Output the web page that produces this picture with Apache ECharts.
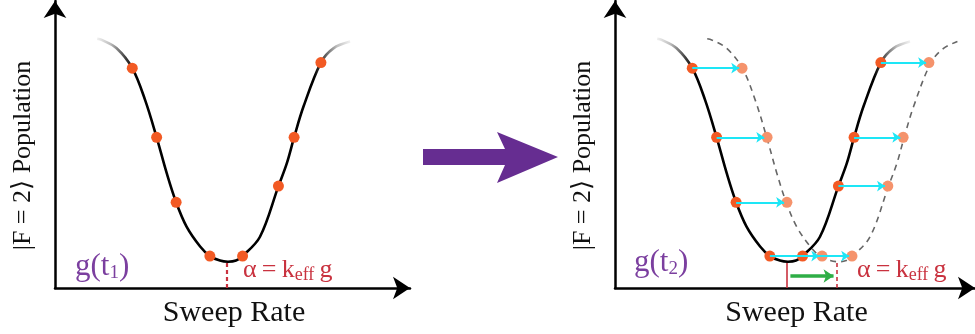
<!DOCTYPE html>
<html>
<head>
<meta charset="utf-8">
<script src="https://cdn.jsdelivr.net/npm/echarts@6/dist/echarts.min.js"></script>
<style>
  html, body { margin: 0; padding: 0; background: #ffffff; }
  #chart { width: 975px; height: 334px; }
</style>
</head>
<body>
<div id="chart"></div>
<script>
// Resonance dip of the |F=2> population versus sweep rate (arbitrary units).
const curveX = [1.21, 1.34, 1.77, 2.22, 2.59, 2.92, 3.21, 3.48, 3.78, 4.17, 4.45, 4.74, 4.97, 5.20, 5.39, 5.89, 6.42, 6.66, 6.87, 7.14, 7.64, 8.00, 8.48];
const curveY = [0.890, 0.886, 0.856, 0.785, 0.671, 0.538, 0.410, 0.306, 0.219, 0.148, 0.114, 0.098, 0.094, 0.098, 0.114, 0.183, 0.364, 0.445, 0.538, 0.648, 0.805, 0.856, 0.880];

// Same dip at the later time g(t2), moved to higher sweep rate.
const shiftedCurveX = [2.65, 2.78, 3.21, 3.66, 4.03, 4.36, 4.65, 4.92, 5.22, 5.61, 5.89, 6.18, 6.41, 6.64, 6.83, 7.33, 7.86, 8.10, 8.31, 8.58, 9.08, 9.44, 9.84];
const shiftedCurveY = [0.890, 0.886, 0.856, 0.785, 0.671, 0.538, 0.410, 0.306, 0.219, 0.148, 0.114, 0.098, 0.094, 0.098, 0.114, 0.183, 0.364, 0.445, 0.538, 0.648, 0.805, 0.856, 0.880];

// Measured points at g(t1) and the same points at g(t2).
const pointX = [2.22, 2.92, 3.48, 4.45, 5.39, 6.42, 6.87, 7.64];
const pointY = [0.785, 0.538, 0.306, 0.114, 0.114, 0.364, 0.538, 0.805];
const shiftedPointX = [3.65, 4.37, 4.94, 5.95, 6.81, 7.84, 8.28, 9.02];
const shiftedPointY = [0.785, 0.538, 0.306, 0.114, 0.114, 0.364, 0.538, 0.805];

// Resonance positions alpha = k_eff g at t1 and t2, and the dip floor.
const alphaX = [4.94, 6.38];
const alphaTopY = 0.093;
const greenArrowY = 0.043;

const xAxisMax = [10.2, 10.345];
const yAxisMax = 1.025;
const labels = {
  xName: 'Sweep Rate',
  yName: '|F = 2⟩ Population',
  time: ['1', '2'],
};

const SERIF = '"Liberation Serif", "DejaVu Serif", serif';
const DARK_DOT = '#F25A24';
const LIGHT_DOT = '#F5936C';
const CYAN = '#1DE6F6';
const RED = '#C9323F';
const PURPLE_TEXT = '#7B3F9F';
const PURPLE_ARROW = '#662D91';

const zip = (xs, ys) => xs.map((x, i) => [x, ys[i]]);

const fadeBlack = new echarts.graphic.LinearGradient(0, 0, 1, 0, [
  { offset: 0.00, color: 'rgba(0,0,0,0.02)' },
  { offset: 0.06, color: 'rgba(0,0,0,0.25)' },
  { offset: 0.15, color: 'rgba(0,0,0,1)' },
  { offset: 0.85, color: 'rgba(0,0,0,1)' },
  { offset: 0.94, color: 'rgba(0,0,0,0.25)' },
  { offset: 1.00, color: 'rgba(0,0,0,0.02)' }
]);

function makeXAxis(i) {
  return {
    type: 'value', gridIndex: i, min: 0, max: xAxisMax[i],
    axisLine: { show: true, onZero: false, symbol: ['none', 'arrow'], symbolSize: [17, 17],
      lineStyle: { color: '#000', width: 2.5 } },
    axisTick: { show: false }, axisLabel: { show: false }, splitLine: { show: false },
    name: labels.xName, nameLocation: 'middle', nameGap: 10,
    nameTextStyle: { fontFamily: SERIF, fontSize: 30, color: '#111', padding: [0, 0, 0, 3] }
  };
}
function makeYAxis(i) {
  return {
    type: 'value', gridIndex: i, min: 0, max: yAxisMax,
    axisLine: { show: true, onZero: false, symbol: ['none', 'arrow'], symbolSize: [17, 17],
      lineStyle: { color: '#000', width: 2.5 } },
    axisTick: { show: false }, axisLabel: { show: false }, splitLine: { show: false },
    name: labels.yName, nameLocation: 'middle', nameGap: 19,
    nameTextStyle: { fontFamily: SERIF, fontSize: 26, color: '#111', padding: [0, 22, 0, 0] }
  };
}

function solidCurve(i) {
  return {
    type: 'line', xAxisIndex: i, yAxisIndex: i, data: zip(curveX, curveY),
    smooth: 0.35, symbol: 'none', silent: true, z: 2,
    lineStyle: { width: 2.6, color: fadeBlack }
  };
}
function dots(i, xs, ys, color) {
  return {
    type: 'scatter', xAxisIndex: i, yAxisIndex: i, data: zip(xs, ys),
    symbolSize: 11, itemStyle: { color: color, opacity: 1 }, silent: true, z: 3
  };
}
function segLines(i, segments, style, arrow, z) {
  return {
    type: 'lines', coordinateSystem: 'cartesian2d', xAxisIndex: i, yAxisIndex: i,
    polyline: false, silent: true, z: z,
    symbol: arrow ? ['none', 'arrow'] : ['none', 'none'], symbolSize: arrow || 0,
    lineStyle: Object.assign({ curveness: 0, opacity: 1 }, style),
    data: segments.map(s => ({ coords: s }))
  };
}

const shiftArrows = pointX.map((x, i) => [[x, pointY[i]], [shiftedPointX[i] - 0.08, shiftedPointY[i]]]);

function timeLabel(left, top, sub) {
  return {
    type: 'text', left: left, top: top, silent: true,
    style: {
      text: '{m|g(t}{s|' + sub + '}{m|)}',
      rich: {
        m: { fontFamily: SERIF, fontSize: 31, lineHeight: 32, fill: PURPLE_TEXT },
        s: { fontFamily: SERIF, fontSize: 19, lineHeight: 19, verticalAlign: 'bottom', fill: PURPLE_TEXT }
      }
    }
  };
}
function alphaLabel(left, top) {
  return {
    type: 'text', left: left, top: top, silent: true,
    style: {
      text: '{m|α\u2009=\u2009k}{s|eff}{m|\u2009g}',
      rich: {
        m: { fontFamily: SERIF, fontSize: 26, lineHeight: 28, fill: RED },
        s: { fontFamily: SERIF, fontSize: 18, lineHeight: 18, verticalAlign: 'bottom', fill: RED }
      }
    }
  };
}

const option = {
  animation: false,
  backgroundColor: '#ffffff',
  grid: [
    { left: 55, top: 1, width: 355, height: 287 },
    { left: 615, top: 1, width: 360, height: 287 }
  ],
  xAxis: [makeXAxis(0), makeXAxis(1)],
  yAxis: [makeYAxis(0), makeYAxis(1)],
  series: [
    solidCurve(0),
    solidCurve(1),
    {
      type: 'line', xAxisIndex: 1, yAxisIndex: 1, data: zip(shiftedCurveX, shiftedCurveY),
      smooth: 0.35, symbol: 'none', silent: true, z: 2,
      lineStyle: { width: 1.6, color: '#666666', type: [6, 5] }
    },
    segLines(0, [[[alphaX[0], 0], [alphaX[0], alphaTopY]]], { color: RED, width: 2.2, type: [4, 3] }, 0, 2),
    segLines(1, [[[alphaX[0], 0], [alphaX[0], alphaTopY]]], { color: RED, width: 1.6 }, 0, 2),
    segLines(1, [[[alphaX[1], 0], [alphaX[1], alphaTopY]]], { color: RED, width: 1.6, type: [4, 3] }, 0, 2),
    dots(0, pointX, pointY, DARK_DOT),
    dots(1, pointX, pointY, DARK_DOT),
    dots(1, shiftedPointX, shiftedPointY, LIGHT_DOT),
    segLines(1, shiftArrows, { color: CYAN, width: 2 }, 8, 5),
    segLines(1, [[[alphaX[0] + 0.1, greenArrowY], [alphaX[1] - 0.1, greenArrowY]]], { color: '#2EAE46', width: 3.5 }, 10, 5)
  ],
  graphic: [
    {
      type: 'polygon', silent: true,
      shape: { points: [[423, 149], [505, 149], [497, 132], [558, 157], [497, 183], [505, 165], [423, 165]] },
      style: { fill: PURPLE_ARROW }
    },
    timeLabel(75, 251, labels.time[0]),
    timeLabel(634, 247, labels.time[1]),
    alphaLabel(243, 257),
    alphaLabel(857, 257)
  ]
};

const chart = echarts.init(document.getElementById('chart'), null, { renderer: 'canvas' });
chart.setOption(option);
</script>
</body>
</html>
